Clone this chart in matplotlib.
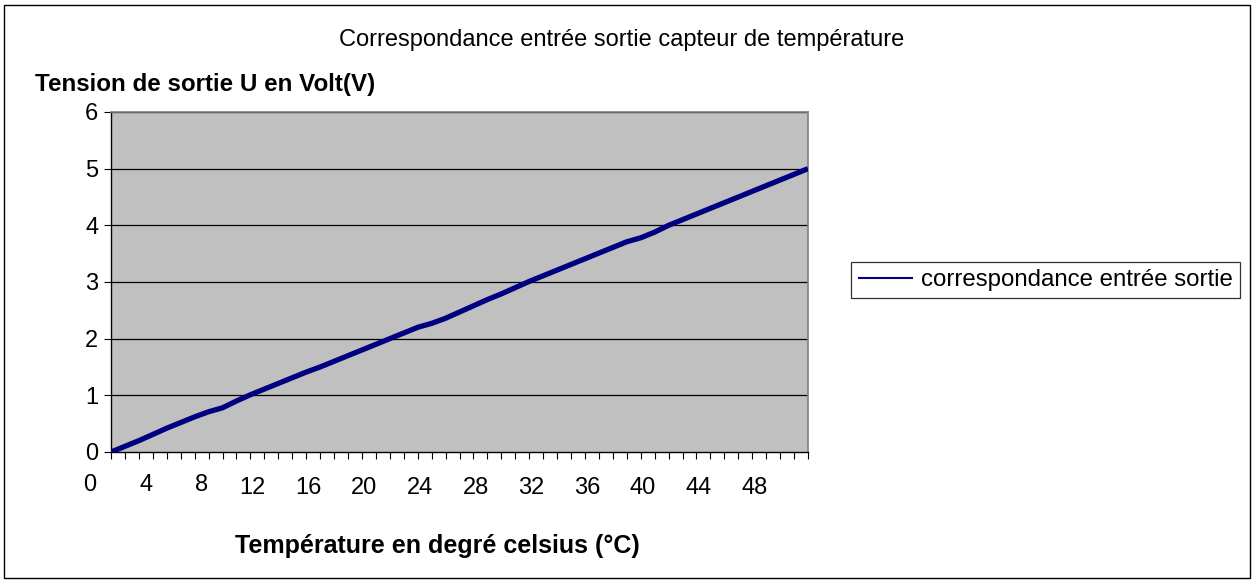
import matplotlib.pyplot as plt
import numpy as np
from matplotlib.patches import Rectangle

plt.rcParams['font.family'] = ['Liberation Sans', 'DejaVu Sans']

# tension relevee pour chaque point (index de categorie 0..50)
tension = [0.00, 0.10, 0.20, 0.31, 0.42, 0.52, 0.62, 0.71, 0.78, 0.90,
           1.01, 1.11, 1.21, 1.31, 1.41, 1.50, 1.60, 1.70, 1.80, 1.90,
           2.00, 2.10, 2.20, 2.27, 2.36, 2.47, 2.58, 2.69, 2.79, 2.90,
           3.01, 3.11, 3.21, 3.31, 3.41, 3.51, 3.61, 3.71, 3.78, 3.88,
           4.00, 4.10, 4.20, 4.30, 4.40, 4.50, 4.60, 4.70, 4.80, 4.90,
           5.00]
temp_labels = [0, 4, 8, 12, 16, 20, 24, 28, 32, 36, 40, 44, 48]
y_ticks = [0, 1, 2, 3, 4, 5, 6]

W, H = 1255, 583
fs = 17
fig = plt.figure(figsize=(W / 100, H / 100), dpi=100)
fig.patches.append(Rectangle((4 / W, 5 / H), (W - 9) / W, (H - 10) / H,
                             transform=fig.transFigure, fill=False,
                             edgecolor='black', linewidth=1))

ax = fig.add_axes([111 / W, 1 - 452 / H, (808 - 111) / W, (452 - 112) / H])
ax.set_facecolor('#C0C0C0')

x = np.arange(len(tension))
ax.plot(x, tension, color='#000080', linewidth=3.8, solid_capstyle='butt',
        label='correspondance entrée sortie', zorder=3)

ax.set_yticks(y_ticks)
for v in y_ticks[1:]:
    ax.axhline(v, color='black', linewidth=0.9, zorder=2)

# graduations a chaque point, labels des categories decales comme dans Excel
ax.set_xticks(x)
ax.set_xticklabels([])
ax.set_xlim(0, len(tension) - 1)
ax.set_ylim(0, 6)
trans = ax.get_xaxis_transform()
for t in temp_labels:
    if t < 12:
        dx, yoff = -1.5, -0.097
    else:
        dx, yoff = -1.85, -0.106
    ax.text(t + dx, yoff, str(t), transform=trans, ha='center', va='center',
            fontsize=fs, clip_on=False)

ax.tick_params(axis='x', length=5, width=0.8, direction='out')
ax.tick_params(axis='y', length=5, width=0.8, direction='out', labelsize=fs, pad=4)

for side in ['top', 'right']:
    ax.spines[side].set_color('#808080')
    ax.spines[side].set_linewidth(1.2)
for side in ['left', 'bottom']:
    ax.spines[side].set_color('black')
    ax.spines[side].set_linewidth(1)

fig.text(622 / W, 1 - 40 / H, 'Correspondance entrée sortie capteur de température',
         ha='center', va='center', fontsize=fs)
fig.text(35 / W, 1 - 84 / H, 'Tension de sortie U en Volt(V)',
         ha='left', va='center', fontsize=fs + 0.4, fontweight='bold')
fig.text(437 / W, 1 - 546 / H, 'Température en degré celsius (°C)',
         ha='center', va='center', fontsize=fs + 1, fontweight='bold')

leg = ax.legend(loc='center left', bbox_to_anchor=(851 / W, 1 - 280 / H),
                bbox_transform=fig.transFigure, fontsize=fs + 0.3, frameon=True,
                fancybox=False, handlelength=2.3, handletextpad=0.3,
                borderpad=0.3, borderaxespad=0)
leg.get_frame().set_edgecolor('black')
leg.get_frame().set_linewidth(0.9)
leg.get_lines()[0].set_linewidth(1.5)

fig.savefig('out.png', dpi=100)
